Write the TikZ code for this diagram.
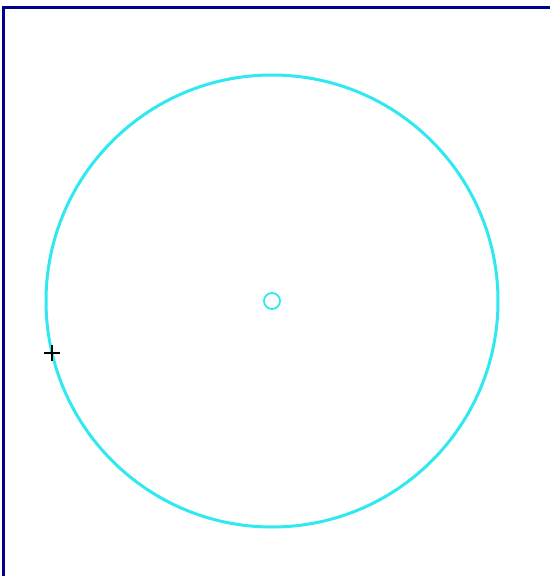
\documentclass[tikz,border=0pt]{standalone}
\usepackage{tikz}

\definecolor{framecol}{RGB}{0,0,140}
\definecolor{circcol}{RGB}{48,232,240}

\begin{document}
\begin{tikzpicture}[x=1pt, y=-1pt, line cap=butt]
	\useasboundingbox (0,0) rectangle (550,576);
	\fill[white] (0,0) rectangle (550,576);
	% frame, top and left only
	\draw[framecol, line width=3.4pt] (3.5,576) -- (3.5,7.5) -- (550,7.5);
	\coordinate (O) at (272,301);
	\coordinate (P) at (52,353);
	\draw[circcol, line width=3pt] (O) circle (226);
	\draw[circcol, line width=1.8pt] (O) circle (8);
	% cursor
	\draw[black, line width=1.3pt] ([xshift=-8]P) -- ([xshift=8]P);
	\draw[black, line width=1.3pt] ([yshift=-8]P) -- ([yshift=8]P);
\end{tikzpicture}
\end{document}
